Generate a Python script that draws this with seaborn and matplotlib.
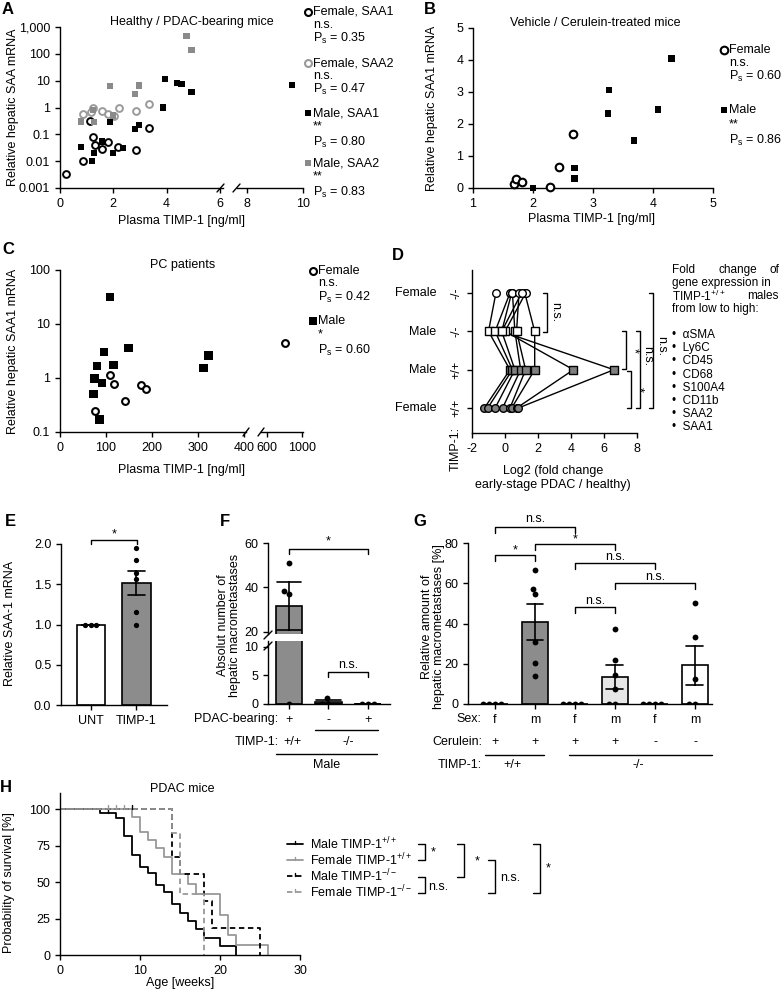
import numpy as np
import pandas as pd
import matplotlib
matplotlib.use('Agg')
import matplotlib.pyplot as plt
import seaborn as sns

# ---- data ----
# A: healthy / PDAC-bearing mice
a_f_saa1_x = [0.23, 0.85, 1.13, 1.25, 1.31, 1.56, 1.79, 2.19, 2.85, 3.34]
a_f_saa1_y = [0.0034, 0.01, 0.32, 0.083, 0.039, 0.028, 0.052, 0.033, 0.026, 0.17]
a_f_saa2_x = [0.88, 1.15, 1.25, 1.56, 1.79, 2.04, 2.21, 2.85, 3.33]
a_f_saa2_y = [0.56, 0.69, 0.93, 0.74, 0.56, 0.48, 1.0, 0.74, 1.4]
a_m_saa1_x = [0.79, 1.19, 1.29, 1.59, 1.88, 2.0, 2.38, 2.81, 2.98, 3.88, 3.94, 4.38, 4.56, 4.94, 9.6]
a_m_saa1_y = [0.033, 0.01, 0.02, 0.054, 0.29, 0.02, 0.03, 0.16, 0.23, 1.0, 11.7, 8.3, 7.4, 3.7, 7.0]
a_m_saa2_x = [0.79, 1.23, 1.29, 2.0, 1.88, 2.81, 2.98, 4.75, 4.94]
a_m_saa2_y = [0.30, 0.8, 0.28, 0.5, 6.3, 3.2, 6.6, 450, 135]

# B: vehicle / cerulein-treated mice
b_f_x = [1.69, 1.72, 1.81, 2.29, 2.43, 2.66]
b_f_y = [0.135, 0.29, 0.18, 0.03, 0.66, 1.70]
b_m_x = [2.0, 2.69, 2.69, 3.27, 3.25, 3.68, 4.08, 4.31]
b_m_y = [0.0, 0.63, 0.29, 3.06, 2.33, 1.49, 2.46, 4.04]

# C: PC patients
c_m_x = [108.7, 96, 148.6, 80.4, 116, 74.6, 90.6, 73, 85.5, 311.6, 322.5]
c_m_y = [32, 3.0, 3.6, 1.66, 1.73, 0.98, 0.81, 0.50, 0.17, 1.52, 2.6]
c_f_x = [75.4, 108.7, 118, 142, 176, 187, 800]
c_f_y = [0.25, 1.15, 0.78, 0.37, 0.74, 0.62, 4.5]

# D: log2 fold change per gene
d_genes = ['αSMA', 'Ly6C', 'CD45', 'CD68', 'S100A4', 'CD11b', 'SAA2', 'SAA1']
d_f_wt = [-1.25, -1.05, -0.6, -0.15, 0.3, 0.4, 0.7, 0.8]
d_m_wt = [0.3, 0.45, 0.6, 0.95, 1.25, 1.8, 4.15, 6.6]
d_m_ko = [-1.0, -0.6, -0.2, 0.6, 0.7, 1.8, 0.0, -0.2]
d_f_ko = [-0.55, 0.3, 0.4, 0.45, 0.85, 1.2, 1.25, 1.0]
d_sex = ['Female', 'Male', 'Male', 'Female']
d_geno = ['+/+', '+/+', '-/-', '-/-']

# E
e_groups = ['UNT', 'TIMP-1']
e_unt = [1.0, 1.0, 1.0]
e_timp = [1.95, 1.80, 1.64, 1.56, 1.16, 0.99]

# F
f_groups = ['wt_pdac', 'ko_ctrl', 'ko_pdac']
f_pdac = ['+', '-', '+']
f_wt_pdac = [51, 38.5, 37, 0]
f_ko_ctrl = [1, 0, 0]
f_ko_pdac = [0, 0, 0]

# G
g_groups = ['f_wt_cer', 'm_wt_cer', 'f_ko_cer', 'm_ko_cer', 'f_ko_veh', 'm_ko_veh']
g_sex = ['f', 'm', 'f', 'm', 'f', 'm']
g_cer = ['+', '+', '+', '+', '-', '-']
g_vals = [[0, 0, 0, 0],
          [66.7, 57.2, 54.5, 31, 20.2, 13.8],
          [0, 0, 0, 0],
          [37.5, 21.7, 14.5, 7.7, 0, 0],
          [0, 0, 0, 0],
          [50, 33.3, 12.5, 0, 0]]
g_colors = ['white', '#8c8c8c', 'white', '#e6e6e6', 'white', 'white']

# H: survival (step values in %)
h_m_wt_t = [0, 5, 7, 8, 9, 10, 11, 12, 13, 14, 15, 16, 17, 18, 20, 22]
h_m_wt_s = [100, 97, 94, 81.5, 68.5, 60.5, 56.5, 48, 43.5, 35, 29, 23.5, 17.5, 11.5, 6, 0]
h_f_wt_t = [0, 9, 10, 11, 12, 13, 14, 16, 17, 20, 21, 22, 26]
h_f_wt_s = [100, 94.5, 84, 79, 73, 67, 55.5, 48.5, 41.5, 27.5, 13.5, 7, 0]
h_m_ko_t = [0, 14, 15, 18, 19, 25]
h_m_ko_s = [100, 67, 55.5, 37, 18.5, 0]
h_f_ko_t = [0, 14, 15, 18]
h_f_ko_s = [100, 83.5, 41.7, 0]
h_cens_t = [6, 6, 7, 8, 9]
h_cens_s = [97, 100, 100, 100, 100]
h_cens_c = ['black', '#999999', '#999999', '#999999', 'black']

# ---- style ----
sns.set_theme(style='ticks')
plt.rcParams['font.family'] = ['Liberation Sans', 'DejaVu Sans']
plt.rcParams['mathtext.default'] = 'regular'
plt.rcParams.update({'axes.linewidth': 1.0, 'xtick.major.width': 1.0, 'ytick.major.width': 1.0,
                     'xtick.major.size': 3.5, 'ytick.major.size': 3.5,
                     'xtick.labelsize': 9, 'ytick.labelsize': 9, 'axes.unicode_minus': False,
                     'axes.edgecolor': 'black', 'xtick.color': 'black', 'ytick.color': 'black',
                     'text.color': 'black', 'axes.labelcolor': 'black'})

W, H = 781, 991
fig = plt.figure(figsize=(W / 100, H / 100), dpi=100)


def box(l, t, r, b):
    ax = fig.add_axes([l / W, 1 - b / H, (r - l) / W, (b - t) / H])
    ax.set_facecolor('none')
    sns.despine(ax=ax)
    return ax


ov = fig.add_axes([0, 0, 1, 1])
ov.set_xlim(0, W)
ov.set_ylim(H, 0)
ov.axis('off')
ov.set_zorder(10)


def t(x, y, s, size=9, ha='left', **kw):
    ov.text(x, y, s, fontsize=size, ha=ha, va='center', **kw)


def seg(xs, ys, **kw):
    ov.plot(xs, ys, color=kw.pop('color', 'black'), lw=kw.pop('lw', 1.0), clip_on=False, **kw)


def hbr(x0, x1, y, d=5):
    seg([x0, x0, x1, x1], [y + d, y, y, y + d])


def vbr(x, y0, y1, d=5):
    seg([x - d, x, x, x - d], [y0, y0, y1, y1])


def scat(ax, x, y, marker, face, edge, s, lw, **kw):
    sns.scatterplot(x=x, y=y, marker=marker, color=face, edgecolor=edge, s=s,
                    linewidth=lw, ax=ax, legend=False, zorder=3, **kw)


def lmark(x, y, marker, face, edge, ms, mew):
    ov.plot([x], [y], marker=marker, mfc=face, mec=edge, ms=ms, mew=mew, ls='none', clip_on=False)


for letter, x, y in [('A', 8, 10), ('B', 430, 10), ('C', 8, 250), ('D', 398, 256),
                     ('E', 10, 521), ('F', 225, 521), ('G', 420, 521), ('H', 6, 787)]:
    t(x, y, letter, size=12, ha='center', fontweight='bold')

# ---- A ----
axA1 = box(60, 27, 223, 188)
axA2 = box(237, 27, 303, 188)
for ax in (axA1, axA2):
    scat(ax, a_f_saa2_x, a_f_saa2_y, 'o', 'white', '#9a9a9a', 24, 1.4)
    scat(ax, a_f_saa1_x, a_f_saa1_y, 'o', 'white', 'black', 24, 1.4)
    scat(ax, a_m_saa2_x, a_m_saa2_y, 's', '#8a8a8a', 'none', 20, 0)
    scat(ax, a_m_saa1_x, a_m_saa1_y, 's', 'black', 'none', 20, 0)
    ax.set_yscale('log')
    ax.set_ylim(0.001, 1000)
    ax.minorticks_off()
    ax.set_xlabel('')
    ax.set_ylabel('')
axA1.set_xlim(0, 6.12)
axA1.set_xticks([0, 2, 4, 6])
axA1.set_yticks([0.001, 0.01, 0.1, 1, 10, 100, 1000])
axA1.set_yticklabels(['0.001', '0.01', '0.1', '1', '10', '100', '1,000'])
axA2.set_xlim(7.64, 10)
axA2.set_xticks([8, 10])
axA2.spines['left'].set_visible(False)
axA2.set_yticks([])
seg([217, 224], [192, 184])
seg([233, 240], [192, 184])
t(192, 22, 'Healthy / PDAC-bearing mice', ha='center')
t(181, 221, 'Plasma TIMP-1 [ng/ml]', ha='center')
t(13, 107, 'Relative hepatic SAA mRNA', ha='center', rotation=90)
lmark(308, 12, 'o', 'white', 'black', 5, 1.5)
t(313, 12, 'Female, SAA1'); t(313, 25, 'n.s.'); t(313, 38, 'P$_s$ = 0.35')
lmark(308, 63, 'o', 'white', '#9a9a9a', 5, 1.5)
t(313, 63, 'Female, SAA2'); t(313, 76, 'n.s.'); t(313, 89, 'P$_s$ = 0.47')
lmark(308, 113, 's', 'black', 'none', 4.5, 0)
t(313, 113, 'Male, SAA1'); t(313, 126, '**'); t(313, 142, 'P$_s$ = 0.80')
lmark(308, 163, 's', '#8a8a8a', 'none', 4.5, 0)
t(313, 163, 'Male, SAA2'); t(313, 176, '**'); t(313, 192, 'P$_s$ = 0.83')

# ---- B ----
axB = box(473, 28, 713, 188)
scat(axB, b_f_x, b_f_y, 'o', 'white', 'black', 30, 1.5, clip_on=False)
scat(axB, b_m_x, b_m_y, 's', 'black', 'none', 22, 0, clip_on=False)
axB.set_xlim(1, 5)
axB.set_ylim(0, 5)
axB.set_xticks([1, 2, 3, 4, 5])
axB.set_yticks([0, 1, 2, 3, 4, 5])
t(595, 23, 'Vehicle / Cerulein-treated mice', ha='center')
t(592, 219, 'Plasma TIMP-1 [ng/ml]', ha='center')
t(432, 108, 'Relative hepatic SAA1 mRNA', ha='center', rotation=90)
lmark(724, 50, 'o', 'white', 'black', 5.5, 1.5)
t(729, 50, 'Female'); t(729, 63, 'n.s.'); t(729, 76, 'P$_s$ = 0.60')
lmark(724, 110, 's', 'black', 'none', 5, 0)
t(729, 110, 'Male'); t(729, 124, '**'); t(729, 140, 'P$_s$ = 0.86')

# ---- C ----
axC1 = box(60, 270, 246, 432)
axC2 = box(261, 270, 303, 432)
for ax in (axC1, axC2):
    scat(ax, c_f_x, c_f_y, 'o', 'white', 'black', 24, 1.5)
    scat(ax, c_m_x, c_m_y, 's', 'black', 'none', 36, 0)
    ax.set_yscale('log')
    ax.set_ylim(0.1, 100)
    ax.minorticks_off()
axC1.set_xlim(0, 404)
axC1.set_xticks([0, 100, 200, 300, 400])
axC1.set_yticks([0.1, 1, 10, 100])
axC1.set_yticklabels(['0.1', '1', '10', '100'])
axC2.set_xlim(530, 1010)
axC2.set_xticks([600, 1000])
axC2.spines['left'].set_visible(False)
axC2.set_yticks([])
seg([243, 249], [436, 428])
seg([258, 264], [436, 428])
t(183, 265, 'PC patients', ha='center')
t(182, 470, 'Plasma TIMP-1 [ng/ml]', ha='center')
t(13, 351, 'Relative hepatic SAA1 mRNA', ha='center', rotation=90)
lmark(313, 271, 'o', 'white', 'black', 5, 1.5)
t(318, 271, 'Female'); t(318, 283, 'n.s.'); t(318, 297, 'P$_s$ = 0.42')
lmark(313, 321, 's', 'black', 'none', 6, 0)
t(318, 321, 'Male'); t(318, 334, '*'); t(318, 350, 'P$_s$ = 0.60')

# ---- D ----
axD = box(472, 270, 637, 433)
dfD = pd.DataFrame({'gene': d_genes * 4,
                    'fc': d_f_wt + d_m_wt + d_m_ko + d_f_ko,
                    'row': np.repeat(np.arange(4), len(d_genes))})
dfD = dfD.sort_values(['gene', 'row'], kind='stable')
sns.lineplot(data=dfD, x='fc', y='row', units='gene', estimator=None, sort=False,
             color='black', lw=1.0, ax=axD)
scat(axD, d_f_wt, [0] * 8, 'o', '#7f7f7f', 'black', 30, 1.0)
scat(axD, d_m_wt, [1] * 8, 's', '#7f7f7f', 'black', 30, 1.0)
scat(axD, d_m_ko, [2] * 8, 's', 'white', 'black', 30, 1.0)
scat(axD, d_f_ko, [3] * 8, 'o', 'white', 'black', 30, 1.0)
axD.set_xlim(-2, 8)
axD.set_ylim(-0.65, 3.6)
axD.set_xticks([-2, 0, 2, 4, 6, 8])
axD.set_yticks([0, 1, 2, 3])
axD.set_yticklabels(d_geno, rotation=90, va='center')
axD.set_xlabel('')
axD.set_ylabel('')
for sx, yp in zip(d_sex, [408, 370, 332, 293]):
    t(436, yp, sx, ha='right')
t(456, 449, 'TIMP-1:', ha='center', rotation=90)
t(553, 471, 'Log2 (fold change', ha='center')
t(553, 485, 'early-stage PDAC / healthy)', ha='center')
vbr(547, 293, 332, d=4); t(555, 312, 'n.s.', ha='center', rotation=270)
vbr(626, 331, 369, d=4); t(633, 350, '*', ha='center', rotation=270)
vbr(631, 371, 408, d=4); t(638, 389, '*', ha='center', rotation=270)
vbr(640, 331, 408, d=4); t(647, 356, 'n.s.', ha='center', rotation=270)
vbr(653, 293, 408, d=4); t(661, 346, 'n.s.', ha='center', rotation=270)
t(672, 270, 'Fold', size=8.5); t(738, 270, 'change', size=8.5, ha='center'); t(779, 270, 'of', size=8.5, ha='right')
t(672, 283, 'gene expression in', size=8.5)
t(672, 296, 'TIMP-1$^{+/+}$', size=8.5); t(779, 296, 'males', size=8.5, ha='right')
t(672, 309, 'from low to high:', size=8.5)
for i, g in enumerate(d_genes):
    t(672, 335 + i * 13.2, '•  ' + g, size=8.5)

# ---- E ----
axE = box(61, 544, 167, 705)
dfE = pd.DataFrame({'grp': ['UNT'] * len(e_unt) + ['TIMP-1'] * len(e_timp), 'val': e_unt + e_timp})
sns.barplot(data=dfE, x='grp', y='val', hue='grp', order=e_groups, hue_order=e_groups,
            palette=['white', '#8c8c8c'], errorbar='se', capsize=0.38, width=0.62,
            edgecolor='black', linewidth=1.2, err_kws={'color': 'black', 'linewidth': 1.2},
            legend=False, ax=axE)
sns.swarmplot(data=dfE, x='grp', y='val', order=e_groups, color='black', size=3.8, ax=axE)
axE.set_xlim(-0.65, 1.67)
axE.set_ylim(0, 2.0)
axE.set_yticks([0, 0.5, 1.0, 1.5, 2.0])
axE.set_yticklabels(['0.0', '0.5', '1.0', '1.5', '2.0'])
axE.set_xlabel('')
axE.set_ylabel('')
t(10, 623, 'Relative SAA-1 mRNA', ha='center', rotation=90)
hbr(91, 137, 540, d=4); t(114, 534, '*', ha='center')

# ---- F ----
dfF = pd.DataFrame({'grp': ['wt_pdac'] * 4 + ['ko_ctrl'] * 3 + ['ko_pdac'] * 3,
                    'val': f_wt_pdac + f_ko_ctrl + f_ko_pdac})
axF1 = box(268, 543, 390, 634)
axF2 = box(268, 641, 390, 704)
for ax in (axF1, axF2):
    sns.barplot(data=dfF, x='grp', y='val', hue='grp', order=f_groups, hue_order=f_groups,
                palette=['#8c8c8c'] * 3, errorbar='se', capsize=0.62, width=0.68,
                edgecolor='black', linewidth=1.2, err_kws={'color': 'black', 'linewidth': 1.2},
                legend=False, ax=ax)
    sns.swarmplot(data=dfF, x='grp', y='val', order=f_groups, color='black', size=4.2, ax=ax)
    ax.set_xlim(-0.53, 2.56)
    ax.set_xlabel('')
    ax.set_ylabel('')
axF1.set_ylim(19, 60)
axF1.set_yticks([20, 40, 60])
axF1.spines['bottom'].set_visible(False)
axF1.set_xticks([])
axF2.set_ylim(0, 11)
axF2.set_yticks([0, 5, 10])
axF2.set_xticks([0, 1, 2])
axF2.set_xticklabels(f_pdac, fontsize=9)
seg([264, 272], [639, 631])
seg([264, 272], [650, 642])
t(229, 625, 'Absolut number of\nhepatic macrometastases', ha='center', rotation=90, linespacing=0.95)
hbr(289, 368, 549, d=5); t(328, 541, '*', ha='center')
hbr(328, 368, 672, d=5); t(348, 665, 'n.s.', ha='center')
t(278, 719, 'PDAC-bearing:', ha='right')
seg([315, 378], [730, 730])
t(279, 742, 'TIMP-1:', ha='right'); t(292, 742, '+/+', ha='center'); t(348, 742, '-/-', ha='center')
seg([276, 377], [754, 754])
t(327, 765, 'Male', ha='center')

# ---- G ----
dfG = pd.DataFrame({'grp': [g for g, v in zip(g_groups, g_vals) for _ in v],
                    'val': [x for v in g_vals for x in v]})
axG = box(468, 543, 712, 704)
sns.barplot(data=dfG, x='grp', y='val', hue='grp', order=g_groups, hue_order=g_groups,
            palette=g_colors, errorbar='se', capsize=0.42, width=0.65,
            edgecolor='black', linewidth=1.2, err_kws={'color': 'black', 'linewidth': 1.2},
            legend=False, ax=axG)
sns.swarmplot(data=dfG, x='grp', y='val', order=g_groups, color='black', size=4.2, ax=axG)
axG.set_xlim(-0.675, 5.43)
axG.set_ylim(0, 80)
axG.set_yticks([0, 20, 40, 60, 80])
axG.set_xticks(range(6))
axG.set_xticklabels(g_sex, fontsize=9)
axG.set_xlabel('')
axG.set_ylabel('')
t(433, 627, 'Relative amount of\nhepatic macrometastases [%]', ha='center', rotation=90, linespacing=0.95)
hbr(495, 575, 527, d=6); t(535, 519, 'n.s.', ha='center')
hbr(495, 535, 555, d=6); t(515, 550, '*', ha='center')
hbr(535, 615, 544, d=6); t(575, 539, '*', ha='center')
hbr(575, 655, 563, d=6); t(615, 557, 'n.s.', ha='center')
hbr(615, 695, 583, d=6); t(655, 577, 'n.s.', ha='center')
hbr(575, 615, 607, d=6); t(595, 601, 'n.s.', ha='center')
t(481, 719, 'Sex:', ha='right')
t(482, 742, 'Cerulein:', ha='right')
for xp, c in zip([495, 535, 575, 615, 655, 695], g_cer):
    t(xp, 742, c, ha='center')
seg([485, 544], [755, 755])
seg([569, 712], [755, 755])
t(482, 765, 'TIMP-1:', ha='right'); t(512, 765, '+/+', ha='center'); t(638, 765, '-/-', ha='center')

# ---- H ----
axH = box(60, 793, 300, 955)
dash = (0, (3, 2))
sns.lineplot(x=h_m_wt_t, y=h_m_wt_s, drawstyle='steps-post', estimator=None, color='black', lw=1.3, ax=axH)
sns.lineplot(x=h_f_wt_t, y=h_f_wt_s, drawstyle='steps-post', estimator=None, color='#999999', lw=1.3, ax=axH)
sns.lineplot(x=h_m_ko_t, y=h_m_ko_s, drawstyle='steps-post', estimator=None, color='black', lw=1.3, linestyle=dash, ax=axH)
sns.lineplot(x=h_f_ko_t, y=h_f_ko_s, drawstyle='steps-post', estimator=None, color='#999999', lw=1.3, linestyle=dash, ax=axH)
for xc, yc, cc in zip(h_cens_t, h_cens_s, h_cens_c):
    axH.plot([xc, xc], [yc, yc + 3], color=cc, lw=1.0)
axH.set_xlim(0, 30)
axH.set_ylim(0, 111)
axH.set_xticks([0, 10, 20, 30])
axH.set_yticks([0, 25, 50, 75, 100])
t(182, 789, 'PDAC mice', ha='center')
t(180, 983, 'Age [weeks]', ha='center')
t(9, 883, 'Probability of survival [%]', ha='center', rotation=90)
for yp, col, ls, lab in [(844, 'black', '-', 'Male TIMP-1$^{+/+}$'),
                         (860, '#999999', '-', 'Female TIMP-1$^{+/+}$'),
                         (876, 'black', dash, 'Male TIMP-1$^{-/-}$'),
                         (892, '#999999', dash, 'Female TIMP-1$^{-/-}$')]:
    seg([287, 303], [yp, yp], color=col, lw=1.3, linestyle=ls)
    seg([295, 295], [yp - 3, yp], color=col, lw=1.0)
    t(310, yp, lab)
vbr(425, 844, 860, d=7); t(433, 852, '*', ha='center')
vbr(425, 877, 893, d=7); t(428, 887, 'n.s.')
vbr(464, 844, 877, d=7); t(477, 861, '*', ha='center')
vbr(495, 860, 893, d=7); t(500, 878, 'n.s.')
vbr(540, 844, 893, d=7); t(548, 868, '*', ha='center')

fig.savefig('out.png', dpi=100)
